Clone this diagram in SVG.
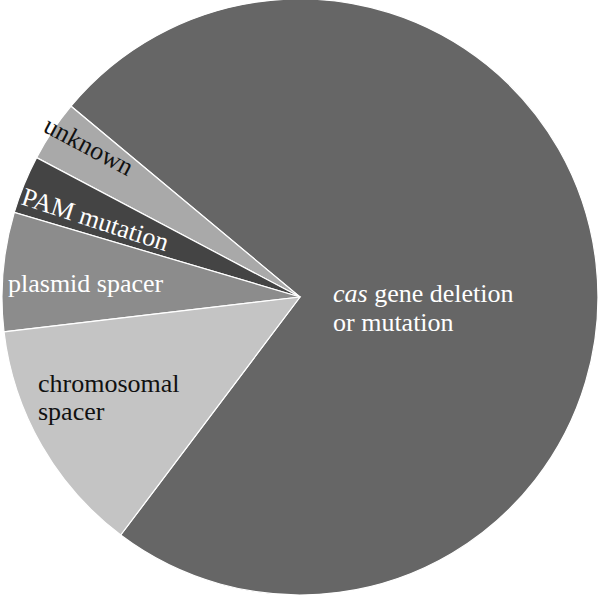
<svg xmlns="http://www.w3.org/2000/svg" width="600" height="599" viewBox="0 0 600 599">
<style>
.s{stroke:#fff;stroke-width:1.2}
text{font-family:"Liberation Serif",serif;font-size:26px}
</style>
<rect width="600" height="599" fill="#fff"/>
<g id="cas"><path class="s" d="M300,297 L120.7,535 A298,298 0 1,0 71,106.2 Z" fill="#666"/></g>
<g id="unknown"><path class="s" d="M300,297 L71,106.2 A298,298 0 0,0 36.6,157.6 Z" fill="#a9a9a9"/>
<text transform="translate(42,131) rotate(28)" fill="#111">unknown</text></g>
<g id="pam"><path class="s" d="M300,297 L36.6,157.6 A298,298 0 0,0 14.3,212.4 Z" fill="#444"/>
<text transform="translate(20,204) rotate(18)" fill="#fff">PAM mutation</text></g>
<g id="plasmid"><path class="s" d="M300,297 L14.3,212.4 A298,298 0 0,0 4,331.8 Z" fill="#8c8c8c"/>
<text x="8" y="292" fill="#fff">plasmid spacer</text></g>
<g id="chromosomal"><path class="s" d="M300,297 L4,331.8 A298,298 0 0,0 120.7,535 Z" fill="#c4c4c4"/>
<text x="38" y="392" fill="#111">chromosomal</text><text x="38" y="420" fill="#111">spacer</text></g>
<g id="caslabel"><text x="333" y="302" fill="#fff"><tspan font-style="italic">cas</tspan> gene deletion</text><text x="333" y="331" fill="#fff">or mutation</text></g>
</svg>
